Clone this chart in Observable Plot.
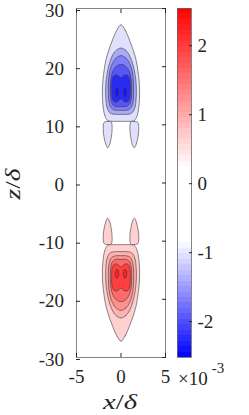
<!DOCTYPE html>
<html><head><meta charset="utf-8">
<script src="https://cdn.jsdelivr.net/npm/d3@7"></script>
<script src="https://cdn.jsdelivr.net/npm/@observablehq/plot@0.6"></script>
<style>
body{margin:0;background:#fff;}
#chart{position:relative;width:249px;height:415px;}
#chart svg{position:absolute;left:0;top:0;}
#chart text{font-family:"Liberation Serif","Times New Roman",serif !important;}
</style></head><body><div id="chart"></div>
<script>
// axis ticks
const xTicks = [-5, 0, 5];
const zTicks = [-30, -20, -10, 0, 10, 20, 30];
const cbTicks = [-2, -1, 0, 1, 2];
const cbDomain = [-2.52, 2.54]; // x 10^-3

// contour outlines, right half (x, |z|), far end -> near end (about x = 0 symmetric)
const contourL1 = [[0,27.2],[0.5,26.2],[0.9,24.8],[1.25,23.4],[1.55,22],[1.78,20.5],[1.97,18.5],[2.08,16.5],[2.08,14.5],[1.98,12.8],[1.8,11.5],[1.5,10.75],[1.0,10.6],[0.5,10.6],[0,10.6]];
const contourL2 = [[0,23.2],[0.55,22.8],[1.0,21.8],[1.35,20.3],[1.6,18.5],[1.72,16.5],[1.7,14.5],[1.55,12.9],[1.2,12.0],[0.6,11.8],[0,11.8]];
const contourL3 = [[0,21.9],[0.55,21.5],[0.95,20.6],[1.25,19.3],[1.4,17.5],[1.42,15.5],[1.33,13.8],[1.05,12.8],[0.55,12.5],[0,12.5]];
const contourL4 = [[0,20.4],[0.5,20.1],[0.9,19.3],[1.13,18.0],[1.2,16.3],[1.15,14.6],[0.95,13.5],[0.5,13.1],[0,13.15]];
const contourCore = [[0,18.1],[0.3,18.45],[0.6,18.6],[0.88,18.3],[1.03,17.4],[1.05,16.0],[1.0,14.7],[0.8,14.0],[0.5,13.9],[0.22,14.2],[0,14.45]];
// full closed outlines (right-side piece), mirrored to the left side
const innerOval = [[0.45,16.4],[0.6,16.1],[0.65,15.6],[0.6,15.1],[0.45,14.8],[0.3,15.1],[0.25,15.6],[0.3,16.1]];
const ear = [[1.1,10.5],[1.5,10.6],[1.9,10.4],[2.0,9.4],[1.92,8.0],[1.72,6.7],[1.5,6.05],[1.3,6.5],[1.1,7.8],[1.0,9.2]];

// blob sign: negative blob at +z, positive blob at -z
const blobSigns = [1, -1];
const blueFills = ["#e0e0fa","#a9a9f7","#8080f6","#5656f5","#2a2af5","#1414f7"];
const redFills  = ["#ffd0d0","#ffb0b0","#ff9090","#ff6b6b","#ff3f3f","#ff2020"];

const mirror = half => half.concat(half.slice(1, -1).reverse().map(([x, z]) => [-x, z]));
const flipX = poly => poly.map(([x, z]) => [-x, z]);
const signZ = (poly, s) => poly.map(([x, z]) => [x, s * z]);

const contourMarks = [];
blobSigns.forEach((s, bi) => {
  const f = bi === 0 ? blueFills : redFills;
  const polys = [
    [ear, f[0]], [flipX(ear), f[0]],
    [mirror(contourL1), f[0]],
    [mirror(contourL2), f[1]],
    [mirror(contourL3), f[2]],
    [mirror(contourL4), f[3]],
    [mirror(contourCore), f[4]],
    [innerOval, f[5]], [flipX(innerOval), f[5]]
  ];
  for (const [pts, fill] of polys) {
    contourMarks.push(Plot.line(signZ(pts, s), {
      x: d => d[0], y: d => d[1], curve: "catmull-rom-closed",
      fill, stroke: "#3a3a3a", strokeWidth: 0.6
    }));
  }
});

const font = "'Liberation Serif','Times New Roman',serif";
const fmt = d => String(d);

const main = Plot.plot({
  width: 249, height: 415,
  marginLeft: 76, marginRight: 84, marginTop: 8, marginBottom: 58,
  x: {domain: [-5, 5]},
  y: {domain: [-30, 30]},
  style: {fontFamily: font, fontSize: "19px", color: "#262626", background: "transparent"},
  marks: [
    ...contourMarks,
    Plot.frame({stroke: "#666", strokeWidth: 0.8}),
    Plot.axisX({ticks: xTicks, anchor: "bottom", tickSize: -4, tickPadding: 15.5, tickFormat: fmt, label: null}),
    Plot.axisX({ticks: xTicks, anchor: "top", tickSize: -4, tickFormat: () => "", label: null}),
    Plot.axisY({ticks: zTicks, anchor: "left", tickSize: -4, tickPadding: 16.5, tickFormat: fmt, label: null, dy: 2}),
    Plot.axisY({ticks: zTicks, anchor: "right", tickSize: -4, tickFormat: () => "", label: null})
  ]
});

// colorbar
const nSteps = 64;
const cbSteps = d3.range(nSteps).map(i => {
  const a = cbDomain[0] + i * (cbDomain[1] - cbDomain[0]) / nSteps;
  const b = cbDomain[0] + (i + 1) * (cbDomain[1] - cbDomain[0]) / nSteps;
  return {y1: a, y2: b, v: (a + b) / 2};
});
const cbar = Plot.plot({
  width: 249, height: 415,
  marginLeft: 177, marginRight: 58, marginTop: 8, marginBottom: 58,
  x: {domain: [0, 1], axis: null},
  y: {domain: cbDomain},
  color: {type: "linear", domain: [-2.52, -0.85, 0.22, 2.54], range: ["#0000ff", "#ffffff", "#ffffff", "#ff0000"]},
  style: {fontFamily: font, fontSize: "19px", color: "#262626", background: "transparent"},
  marks: [
    Plot.rect(cbSteps, {x1: 0, x2: 1, y1: "y1", y2: "y2", fill: "v", shapeRendering: "crispEdges"}),
    Plot.frame({stroke: "#666", strokeWidth: 0.8}),
    Plot.axisY({ticks: cbTicks, anchor: "right", tickSize: -3, tickPadding: 9, tickFormat: fmt, label: null})
  ]
});

const root = document.getElementById("chart");
root.appendChild(main);
root.appendChild(cbar);

const s = d3.select(main);
// x label
const xl = s.append("text").attr("x", 120).attr("y", 409).attr("text-anchor", "middle")
  .attr("font-size", 21).attr("fill", "#262626")
  .attr("textLength", 34).attr("lengthAdjust", "spacingAndGlyphs");
xl.append("tspan").attr("font-style", "italic").text("x");
xl.append("tspan").text("/");
xl.append("tspan").attr("font-style", "italic").text("δ");
// z label
const zl = s.append("text").attr("transform", "translate(20,184) rotate(-90)").attr("text-anchor", "middle")
  .attr("font-size", 21).attr("fill", "#262626")
  .attr("textLength", 31).attr("lengthAdjust", "spacingAndGlyphs");
zl.append("tspan").attr("font-style", "italic").text("z");
zl.append("tspan").text("/");
zl.append("tspan").attr("font-style", "italic").text("δ");
// colorbar multiplier
const cb = d3.select(cbar);
const m = cb.append("text").attr("x", 178).attr("y", 385).attr("text-anchor", "start")
  .attr("font-size", 19).attr("fill", "#262626");
m.append("tspan").text("×10");
m.append("tspan").attr("dx", 4).attr("dy", -12).attr("font-size", 15).text("-3");
</script>
</body></html>
